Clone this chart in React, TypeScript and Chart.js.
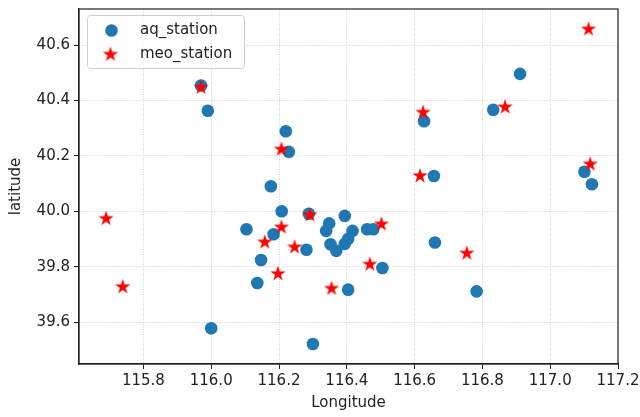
import React, { useEffect, useRef } from 'react';
import { Chart, registerables } from 'chart.js';

Chart.register(...registerables);

const seriesNames = ['aq_station', 'meo_station'];

const aqLon = [115.970, 115.990, 116.220, 116.229, 116.176, 116.208, 116.104, 116.184, 116.147, 116.136, 116.281, 116.288, 116.394, 116.348, 116.339, 116.352, 116.369, 116.394, 116.404, 116.417, 116.460, 116.478, 116.505, 116.404, 116.660, 116.783, 116.000, 116.300, 116.911, 116.832, 116.628, 116.657, 117.101, 117.123];
const aqLat = [40.454, 40.363, 40.289, 40.215, 40.091, 40.001, 39.936, 39.918, 39.825, 39.742, 39.862, 39.992, 39.984, 39.957, 39.930, 39.882, 39.858, 39.883, 39.901, 39.930, 39.936, 39.936, 39.796, 39.718, 39.888, 39.712, 39.579, 39.522, 40.496, 40.367, 40.325, 40.128, 40.143, 40.098];

const meoLon = [115.970, 116.207, 116.291, 116.207, 116.158, 116.246, 116.197, 116.355, 116.468, 116.502, 116.754, 115.690, 115.739, 116.867, 116.625, 116.616, 117.118, 117.113];
const meoLat = [40.447, 40.224, 39.987, 39.943, 39.889, 39.871, 39.775, 39.722, 39.809, 39.954, 39.849, 39.974, 39.728, 40.376, 40.357, 40.128, 40.170, 40.657];

const xTicks = [115.8, 116.0, 116.2, 116.4, 116.6, 116.8, 117.0, 117.2];
const yTicks = [39.6, 39.8, 40.0, 40.2, 40.4, 40.6];

const xTitle = 'Longitude';
const yTitle = 'latitude';

const BLUE = '#1f77b4';
const RED = '#ff0000';
const FONT = 'DejaVu Sans';
const TEXT = '#222222';
const GRID = 'rgba(200,200,200,0.85)';

function makeStar(R: number, color: string): HTMLCanvasElement {
  const size = Math.ceil(2 * R + 2);
  const c = document.createElement('canvas');
  c.width = size;
  c.height = size;
  const ctx = c.getContext('2d')!;
  const cx = size / 2;
  const cy = size / 2;
  const r = R * 0.381966;
  ctx.beginPath();
  for (let i = 0; i < 10; i++) {
    const rad = i % 2 === 0 ? R : r;
    const a = -Math.PI / 2 + (i * Math.PI) / 5;
    const px = cx + rad * Math.cos(a);
    const py = cy + rad * Math.sin(a);
    if (i === 0) ctx.moveTo(px, py);
    else ctx.lineTo(px, py);
  }
  ctx.closePath();
  ctx.fillStyle = color;
  ctx.fill();
  return c;
}

export default function App() {
  const ref = useRef<HTMLCanvasElement | null>(null);

  useEffect(() => {
    if (!ref.current) return;
    const star = makeStar(8, RED);

    const borderPlugin = {
      id: 'frameBorder',
      afterDatasetsDraw(chart: any) {
        const { ctx, chartArea } = chart;
        ctx.save();
        ctx.strokeStyle = '#222222';
        ctx.lineWidth = 1.2;
        ctx.strokeRect(chartArea.left, chartArea.top, chartArea.right - chartArea.left, chartArea.bottom - chartArea.top);
        ctx.restore();
      },
    };

    const legendPlugin = {
      id: 'innerLegend',
      afterDraw(chart: any) {
        const { ctx } = chart;
        ctx.save();
        const x = 87.5, y = 15.5, w = 157, h = 53, rad = 3;
        ctx.beginPath();
        ctx.moveTo(x + rad, y);
        ctx.lineTo(x + w - rad, y);
        ctx.quadraticCurveTo(x + w, y, x + w, y + rad);
        ctx.lineTo(x + w, y + h - rad);
        ctx.quadraticCurveTo(x + w, y + h, x + w - rad, y + h);
        ctx.lineTo(x + rad, y + h);
        ctx.quadraticCurveTo(x, y + h, x, y + h - rad);
        ctx.lineTo(x, y + rad);
        ctx.quadraticCurveTo(x, y, x + rad, y);
        ctx.closePath();
        ctx.fillStyle = 'rgba(255,255,255,0.8)';
        ctx.fill();
        ctx.strokeStyle = '#d0d0d0';
        ctx.lineWidth = 1;
        ctx.stroke();

        ctx.beginPath();
        ctx.arc(111.5, 30.5, 6.3, 0, Math.PI * 2);
        ctx.fillStyle = BLUE;
        ctx.fill();
        ctx.drawImage(star, 110.5 - star.width / 2, 54.5 - star.height / 2);

        ctx.fillStyle = TEXT;
        ctx.font = `15px "${FONT}"`;
        ctx.textBaseline = 'middle';
        ctx.textAlign = 'left';
        ctx.fillText(seriesNames[0], 140, 30);
        ctx.fillText(seriesNames[1], 140, 54);
        ctx.restore();
      },
    };

    const chart = new Chart(ref.current, {
      type: 'scatter',
      data: {
        datasets: [
          {
            label: seriesNames[0],
            data: aqLon.map((v, i) => ({ x: v, y: aqLat[i] })),
            backgroundColor: BLUE,
            borderColor: BLUE,
            borderWidth: 0,
            pointRadius: 6.3,
            pointHoverRadius: 6.3,
            pointStyle: 'circle',
            order: 1,
          },
          {
            label: seriesNames[1],
            data: meoLon.map((v, i) => ({ x: v, y: meoLat[i] })),
            backgroundColor: RED,
            borderColor: RED,
            pointStyle: star as any,
            pointRadius: 8,
            order: 0,
          },
        ],
      },
      options: {
        animation: false,
        responsive: false,
        maintainAspectRatio: false,
        events: [],
        layout: { padding: { left: 0, top: 7, right: 22, bottom: 0 } },
        plugins: {
          legend: { display: false },
          tooltip: { enabled: false },
        },
        scales: {
          x: {
            type: 'linear',
            min: 115.61,
            max: 117.2,
            afterBuildTicks: (scale: any) => {
              scale.ticks = xTicks.map((v) => ({ value: v }));
            },
            afterFit: (scale: any) => {
              scale.height = 53;
              scale.paddingLeft = 0;
              scale.paddingRight = 0;
            },
            ticks: {
              autoSkip: false,
              maxRotation: 0,
              padding: 3,
              color: TEXT,
              font: { family: FONT, size: 15 },
              callback: (v: any) => Number(v).toFixed(1),
            },
            grid: {
              color: GRID,
              lineWidth: 1,
              drawTicks: true,
              tickLength: 5,
              tickColor: '#222222',
              tickWidth: 1,
              tickBorderDash: [],
            },
            border: { display: true, color: '#222222', width: 1.2, dash: [1, 1.5] },
            title: {
              display: true,
              text: xTitle,
              color: TEXT,
              font: { family: FONT, size: 15 },
              padding: { top: 0, bottom: 5 },
            },
          },
          y: {
            type: 'linear',
            min: 39.45,
            max: 40.73,
            afterBuildTicks: (scale: any) => {
              scale.ticks = yTicks.map((v) => ({ value: v }));
            },
            afterFit: (scale: any) => {
              scale.width = 79;
              scale.paddingTop = 0;
              scale.paddingBottom = 0;
            },
            ticks: {
              autoSkip: false,
              padding: 4,
              color: TEXT,
              font: { family: FONT, size: 15 },
              callback: (v: any) => Number(v).toFixed(1),
            },
            grid: {
              color: GRID,
              lineWidth: 1,
              drawTicks: true,
              tickLength: 5,
              tickColor: '#222222',
              tickWidth: 1,
              tickBorderDash: [],
            },
            border: { display: true, color: '#222222', width: 1.2, dash: [1, 1.5] },
            title: {
              display: true,
              text: yTitle,
              color: TEXT,
              font: { family: FONT, size: 15 },
              padding: { top: 7, bottom: 0 },
            },
          },
        },
      },
      plugins: [borderPlugin, legendPlugin],
    });

    return () => chart.destroy();
  }, []);

  return (
    <div style={{ position: 'fixed', left: 0, top: 0, width: 640, height: 417, background: '#fff' }}>
      <canvas ref={ref} width={640} height={417} style={{ display: 'block' }} />
    </div>
  );
}
